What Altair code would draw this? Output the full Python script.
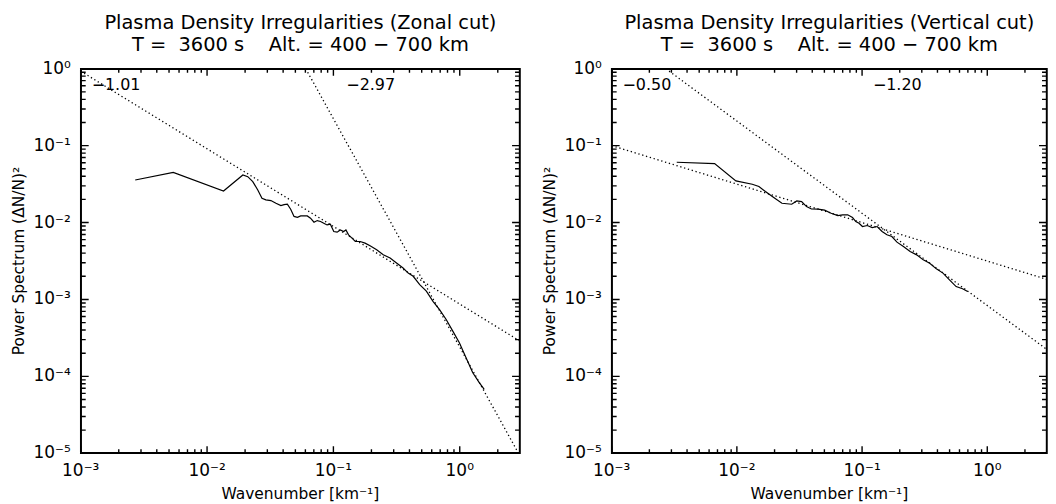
import altair as alt
import pandas as pd

FONT = "DejaVu Sans"

# ---------------- data ----------------
# Zonal cut spectrum (left panel)
zonal_k = [0.0027, 0.0054, 0.0135, 0.0192, 0.0210, 0.0230, 0.0252, 0.0272, 0.0292, 0.0320,
           0.0351, 0.0384, 0.0407, 0.0432, 0.0459, 0.0488, 0.0519, 0.0551, 0.0621, 0.0659,
           0.0702, 0.0745, 0.0791, 0.0839, 0.0891, 0.0946, 0.1007, 0.107, 0.1135, 0.1205,
           0.1256, 0.1318, 0.1403, 0.149, 0.163, 0.178, 0.195, 0.220, 0.248, 0.281,
           0.316, 0.356, 0.391, 0.428, 0.482, 0.544, 0.614, 0.692, 0.781, 0.881,
           0.993, 1.122, 1.265, 1.427, 1.563]
zonal_p = [0.0357, 0.0449, 0.0257, 0.0415, 0.0395, 0.0340, 0.0265, 0.0207, 0.0197, 0.0193,
           0.0178, 0.0166, 0.0171, 0.0173, 0.0149, 0.0120, 0.0117, 0.0122, 0.0122, 0.0114,
           0.0101, 0.0106, 0.0103, 0.0098, 0.0093, 0.0095, 0.00764, 0.0075, 0.0080, 0.00764,
           0.0080, 0.00692, 0.00627, 0.00567, 0.00567, 0.00540, 0.00499, 0.00443, 0.00381, 0.00345,
           0.00297, 0.00256, 0.00220, 0.00200, 0.00156, 0.00128, 0.000946, 0.000738, 0.000548, 0.000387,
           0.000273, 0.000175, 0.000112, 0.0000828, 0.0000679]

# Vertical cut spectrum (right panel)
vert_k = [0.00331, 0.00664, 0.00982, 0.01328, 0.0150, 0.0169, 0.0197, 0.0229, 0.0274, 0.0301,
          0.0329, 0.0360, 0.0394, 0.0445, 0.0502, 0.0566, 0.0640, 0.0700, 0.0767, 0.0839,
          0.0891, 0.0946, 0.1007, 0.110, 0.1205, 0.132, 0.1445, 0.158, 0.173, 0.190,
          0.214, 0.242, 0.273, 0.308, 0.347, 0.392, 0.443, 0.499, 0.564, 0.635, 0.697]
vert_p = [0.0608, 0.0584, 0.0348, 0.0315, 0.0294, 0.0253, 0.0211, 0.0178, 0.0173, 0.0191,
          0.0187, 0.0161, 0.0150, 0.0149, 0.0145, 0.0132, 0.0123, 0.0126, 0.0126, 0.0116,
          0.0103, 0.0098, 0.00887, 0.00914, 0.00861, 0.00887, 0.00764, 0.00692, 0.00658, 0.00556,
          0.00488, 0.00420, 0.00380, 0.00327, 0.00296, 0.00250, 0.00220, 0.00180, 0.00147, 0.00138, 0.00127]

# Fitted power laws (end points of the dotted lines)
zonal_fit1_k = [0.001, 3.0]
zonal_fit1_p = [0.93, 2.87e-4]
zonal_fit2_k = [0.0604, 2.915]
zonal_fit2_p = [1.0, 1.0e-5]
vert_fit1_k = [0.001, 3.0]
vert_fit1_p = [0.100, 1.82e-3]
vert_fit2_k = [0.00271, 3.0]
vert_fit2_p = [1.0, 2.23e-4]

# Slope annotations
zonal_slope_text = ["\u22121.01", "\u22122.97"]
zonal_slope_k = [0.00122, 0.1265]
vert_slope_text = ["\u22120.50", "\u22121.20"]
vert_slope_k = [0.00122, 0.122]
slope_p = [0.62, 0.62]

# Axis ticks and tick labels
x_decades = [0.001, 0.01, 0.1, 1.0]
x_labels = ["10\u207b\u00b3", "10\u207b\u00b2", "10\u207b\u00b9", "10\u2070"]
y_decades = [1e-5, 1e-4, 1e-3, 1e-2, 1e-1, 1.0]
y_labels = ["10\u207b\u2075", "10\u207b\u2074", "10\u207b\u00b3", "10\u207b\u00b2",
            "10\u207b\u00b9", "10\u2070"]
multipliers = [2, 3, 4, 5, 6, 7, 8, 9]
x_minor = [m * d for d in x_decades for m in multipliers if m * d <= 3.0]
y_minor = [m * d for d in y_decades[:-1] for m in multipliers]

X_TITLE = "Wavenumber [km\u207b\u00b9]"
Y_TITLE = "Power Spectrum (\u0394N/N)\u00b2"

X_DOMAIN = [0.001, 3.0]
Y_DOMAIN = [1e-5, 1.0]

HEIGHT = 386
MAJOR, MINOR = 7, 4

xscale = alt.Scale(type="log", domain=X_DOMAIN, nice=False)
yscale = alt.Scale(type="log", domain=Y_DOMAIN, nice=False)


def X(field):
    return alt.X(field, scale=xscale, axis=None)


def Y(field):
    return alt.Y(field, scale=yscale, axis=None)


x_major_df = pd.DataFrame({"k": x_decades, "lab": x_labels})
x_minor_df = pd.DataFrame({"k": x_minor})
y_major_df = pd.DataFrame({"p": y_decades, "lab": y_labels})
y_minor_df = pd.DataFrame({"p": y_minor})


def x_ticks(df, size):
    base = alt.Chart(df).mark_rule(color="black", strokeWidth=1.4, clip=True)
    return [base.encode(x=X("k:Q"), y=alt.value(HEIGHT - size), y2=alt.value(HEIGHT)),
            base.encode(x=X("k:Q"), y=alt.value(0), y2=alt.value(size))]


def y_ticks(df, size, width):
    base = alt.Chart(df).mark_rule(color="black", strokeWidth=1.4, clip=True)
    return [base.encode(y=Y("p:Q"), x=alt.value(0), x2=alt.value(size)),
            base.encode(y=Y("p:Q"), x=alt.value(width - size), x2=alt.value(width))]


def panel(k, p, f1k, f1p, f2k, f2p, txt, tk, title, width):
    curve = pd.DataFrame({"k": k, "p": p})
    fit1 = pd.DataFrame({"k": f1k, "p": f1p})
    fit2 = pd.DataFrame({"k": f2k, "p": f2p})
    lab = pd.DataFrame({"k": tk, "p": slope_p, "t": txt})

    l_curve = alt.Chart(curve).mark_line(color="black", strokeWidth=1.2, clip=True).encode(
        x=X("k:Q"), y=Y("p:Q"))
    l_fit1 = alt.Chart(fit1).mark_line(color="black", strokeWidth=1.3, strokeDash=[1.3, 2.7],
                                       clip=True).encode(x=X("k:Q"), y=Y("p:Q"))
    l_fit2 = alt.Chart(fit2).mark_line(color="black", strokeWidth=1.3, strokeDash=[1.3, 2.7],
                                       clip=True).encode(x=X("k:Q"), y=Y("p:Q"))
    l_text = alt.Chart(lab).mark_text(align="left", baseline="middle", font=FONT,
                                      fontSize=16, color="black").encode(
        x=X("k:Q"), y=Y("p:Q"), text="t:N")
    frame = alt.Chart(pd.DataFrame({"a": [0]})).mark_rect(
        fillOpacity=0, stroke="black", strokeWidth=2.4, clip=True
    ).encode(x=alt.value(0), x2=alt.value(width), y=alt.value(0), y2=alt.value(HEIGHT))

    ticks = (x_ticks(x_major_df, MAJOR) + x_ticks(x_minor_df, MINOR)
             + y_ticks(y_major_df, MAJOR + 1, width) + y_ticks(y_minor_df, MINOR + 1, width))

    # tick labels and axis titles
    x_lab = alt.Chart(x_major_df).mark_text(align="center", baseline="top", font=FONT,
                                            fontSize=17, color="black").encode(
        x=X("k:Q"), y=alt.value(HEIGHT + 10), text="lab:N")
    y_lab = alt.Chart(y_major_df).mark_text(align="right", baseline="middle", font=FONT,
                                            fontSize=17, color="black").encode(
        y=Y("p:Q"), x=alt.value(-10), text="lab:N")
    x_tit = alt.Chart(pd.DataFrame({"t": [X_TITLE]})).mark_text(
        align="center", baseline="top", font=FONT, fontSize=15.5, color="black"
    ).encode(x=alt.value(width / 2), y=alt.value(HEIGHT + 34), text="t:N")
    y_tit = alt.Chart(pd.DataFrame({"t": [Y_TITLE]})).mark_text(
        align="center", baseline="middle", font=FONT, fontSize=15.5, color="black", angle=270
    ).encode(x=alt.value(-62), y=alt.value(HEIGHT / 2), text="t:N")

    return alt.layer(l_curve, l_fit1, l_fit2, l_text, frame, *ticks,
                     x_lab, y_lab, x_tit, y_tit).properties(
        width=width, height=HEIGHT,
        title=alt.TitleParams(text=title, font=FONT, fontSize=19.5, fontWeight="normal",
                              color="black", anchor="middle", lineHeight=22, offset=4),
    )


NB = "\u00a0"
line2 = "T =" + NB * 2 + "3600 s" + NB * 4 + "Alt. = 400 \u2212 700 km"
left = panel(zonal_k, zonal_p, zonal_fit1_k, zonal_fit1_p, zonal_fit2_k, zonal_fit2_p,
             zonal_slope_text, zonal_slope_k,
             ["Plasma Density Irregularities (Zonal cut)", line2], 441)
right = panel(vert_k, vert_p, vert_fit1_k, vert_fit1_p, vert_fit2_k, vert_fit2_p,
              vert_slope_text, vert_slope_k,
              ["Plasma Density Irregularities (Vertical cut)", line2], 437)

chart = alt.hconcat(left, right, spacing=21).configure_view(
    stroke="black", strokeWidth=1.5
).properties(
    padding={"left": 3, "top": 3, "right": 0, "bottom": 0}, background="white"
)

chart.save("out.html", embed_options={"renderer": "svg", "actions": False})
